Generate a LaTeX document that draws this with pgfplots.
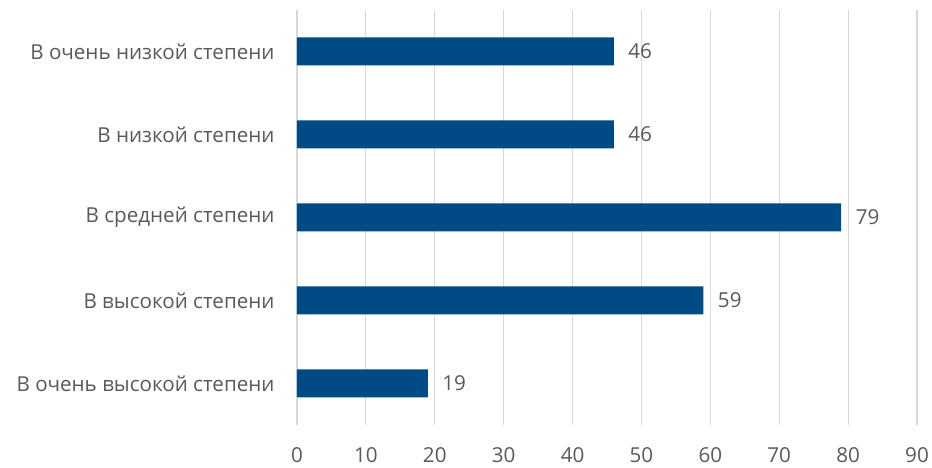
\documentclass[border=0pt]{standalone}
\usepackage{pgfplots}
\pgfplotsset{compat=1.18}
\usepackage{fontspec}
\setmainfont{Open Sans}
\definecolor{barblue}{HTML}{004A86}
\definecolor{txtgray}{HTML}{595959}
\definecolor{gridgray}{HTML}{D9D9D9}
\begin{document}
\begin{tikzpicture}
\path[use as bounding box] (-297pt,-43pt) rectangle (635pt,425pt);
\begin{axis}[
  at={(0,0)}, anchor=south west,
  scale only axis, width=620pt, height=415pt,
  xmin=0, xmax=90, ymin=-0.5, ymax=4.5,
  xtick={0,10,...,90},
  ytick={0,1,2,3,4},
  yticklabels={В очень высокой степени, В высокой степени, В средней степени, В низкой степени, В очень низкой степени},
  axis line style={draw=none},
  major tick length=0pt,
  xmajorgrids, grid style={gridgray, line width=1.2pt},
  /pgf/number format/assume math mode=true,
  tick label style={font=\fontsize{20.6}{24}\selectfont, text=txtgray},
  xticklabel style={yshift=-19pt},
  yticklabel style={xshift=-19pt},
  xbar, bar width=28pt,
  nodes near coords,
  every node near coord/.append style={font=\fontsize{20.6}{24}\selectfont, text=txtgray, xshift=11pt},
  clip=false,
]
\addplot[fill=barblue, draw=none] coordinates {(19,0) (59,1) (79,2) (46,3) (46,4)};
\end{axis}
\end{tikzpicture}
\end{document}
